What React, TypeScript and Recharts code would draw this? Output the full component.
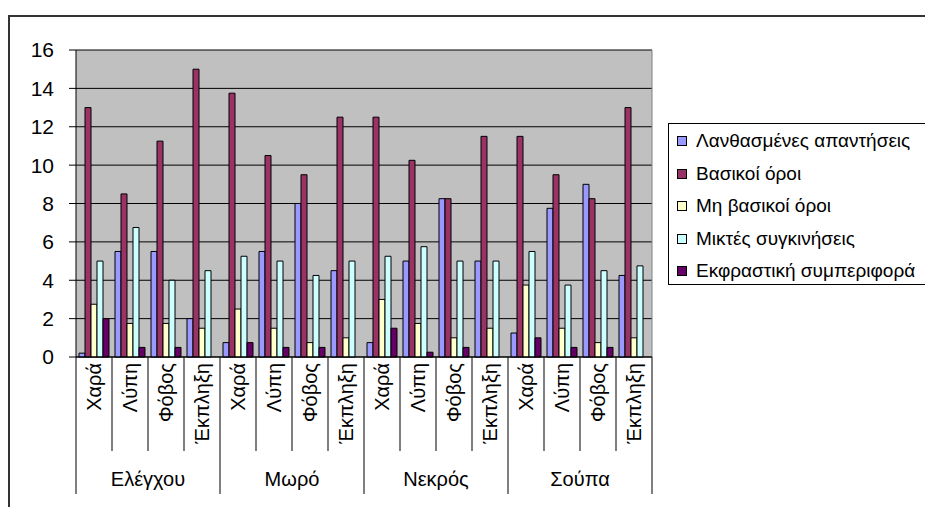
import React from 'react';
import { Bar, BarChart, CartesianGrid, XAxis, YAxis } from 'recharts';

const groups = ['Ελέγχου', 'Μωρό', 'Νεκρός', 'Σούπα'];
const emotions = ['Χαρά', 'Λύπη', 'Φόβος', 'Έκπληξη'];
const yTicks = [0, 2, 4, 6, 8, 10, 12, 14, 16];

// one value per group x emotion, in the order above
const wrongAnswers = [0.2, 5.5, 5.5, 2, 0.75, 5.5, 8, 4.5, 0.75, 5, 8.25, 5, 1.25, 7.75, 9, 4.25];
const basicTerms = [13, 8.5, 11.25, 15, 13.75, 10.5, 9.5, 12.5, 12.5, 10.25, 8.25, 11.5, 11.5, 9.5, 8.25, 13];
const nonBasicTerms = [2.75, 1.75, 1.75, 1.5, 2.5, 1.5, 0.75, 1, 3, 1.75, 1, 1.5, 3.75, 1.5, 0.75, 1];
const mixedEmotions = [5, 6.75, 4, 4.5, 5.25, 5, 4.25, 5, 5.25, 5.75, 5, 5, 5.5, 3.75, 4.5, 4.75];
const expressive = [2, 0.5, 0.5, 0, 0.75, 0.5, 0.5, 0, 1.5, 0.25, 0.5, 0, 1, 0.5, 0.5, 0];

const series = [
  { key: 'wrong', name: 'Λανθασμένες απαντήσεις', color: '#9999FF', values: wrongAnswers },
  { key: 'basic', name: 'Βασικοί όροι', color: '#993366', values: basicTerms },
  { key: 'nonBasic', name: 'Μη βασικοί όροι', color: '#FFFFCC', values: nonBasicTerms },
  { key: 'mixed', name: 'Μικτές συγκινήσεις', color: '#CCFFFF', values: mixedEmotions },
  { key: 'expr', name: 'Εκφραστική συμπεριφορά', color: '#660066', values: expressive },
];

const data = groups.flatMap((g, gi) =>
  emotions.map((e, ei) => {
    const i = gi * 4 + ei;
    const row: Record<string, string | number> = { id: `${g}-${e}`, group: g, emo: e };
    series.forEach(s => {
      row[s.key] = s.values[i];
    });
    return row;
  }),
);

const FONT = 'Liberation Sans, Arial, sans-serif';

function CategoryTick(props: any) {
  const { x, y, index, payload } = props;
  const half = payload?.offset || 18;
  const row = data[index];
  const first = index % 4 === 0;
  const last = index === data.length - 1;
  return (
    <g>
      <line x1={x - half} x2={x - half} y1={y} y2={y + (first ? 137 : 94)} stroke="#000" />
      {last && <line x1={x + half} x2={x + half} y1={y} y2={y + 137} stroke="#000" />}
      <text
        transform={`translate(${x + 7},${y + 6}) rotate(-90)`}
        textAnchor="end"
        fontSize={20}
        fontFamily={FONT}
        fill="#000"
      >
        {row.emo}
      </text>
      {index % 4 === 1 && (
        <text x={x + half} y={y + 129} textAnchor="middle" fontSize={20} fontFamily={FONT} fill="#000">
          {row.group}
        </text>
      )}
    </g>
  );
}

function LegendBox() {
  return (
    <div
      style={{
        position: 'absolute',
        left: 668,
        top: 123,
        border: '1px solid #000',
        width: 270,
        height: 162,
        boxSizing: 'border-box',
        padding: '1px 0 0 8px',
        fontFamily: FONT,
        fontSize: 19,
        background: '#fff',
      }}
    >
      {series.map(s => (
        <div key={s.key} style={{ display: 'flex', alignItems: 'center', height: 32.5, whiteSpace: 'nowrap' }}>
          <span
            style={{
              width: 8,
              height: 8,
              background: s.color,
              border: '1px solid #000',
              marginRight: 9,
              flex: 'none',
            }}
          />
          {s.name}
        </div>
      ))}
    </div>
  );
}

export default function App(): JSX.Element {
  return (
    <div style={{ position: 'absolute', left: 0, top: 0, width: 925, height: 507, overflow: 'hidden', background: '#fff' }}>
      <div
        style={{
          position: 'absolute',
          left: 8,
          top: 15,
          width: 940,
          height: 520,
          borderLeft: '2px solid #333',
          borderTop: '2px solid #333',
        }}
      />
      <BarChart
        width={925}
        height={507}
        data={data}
        margin={{ top: 50, right: 273, left: 0, bottom: 0 }}
        barCategoryGap={3}
        barGap={0}
        style={{ position: 'absolute', left: 0, top: 0 }}
      >
        <CartesianGrid fill="#C0C0C0" fillOpacity={1} vertical={false} stroke="#000" strokeOpacity={1} />
        <CartesianGrid
          horizontal={false}
          stroke="#808080"
          verticalCoordinatesGenerator={({ offset }: any) => [offset.left + offset.width]}
        />
        <XAxis
          dataKey="id"
          interval={0}
          height={150}
          tickLine={false}
          tickSize={0}
          tickMargin={0}
          axisLine={{ stroke: '#000' }}
          tick={(p: any) => <CategoryTick {...p} />}
        />
        <YAxis
          width={76}
          domain={[0, 16]}
          ticks={yTicks}
          interval={0}
          tickSize={7}
          tickMargin={15}
          axisLine={{ stroke: '#000' }}
          tickLine={{ stroke: '#000' }}
          tick={{ fill: '#000', fontSize: 21, fontFamily: FONT }}
        />
        {series.map(s => (
          <Bar
            key={s.key}
            dataKey={s.key}
            name={s.name}
            fill={s.color}
            stroke="#000"
            strokeWidth={1}
            isAnimationActive={false}
          />
        ))}
      </BarChart>
      <LegendBox />
    </div>
  );
}
